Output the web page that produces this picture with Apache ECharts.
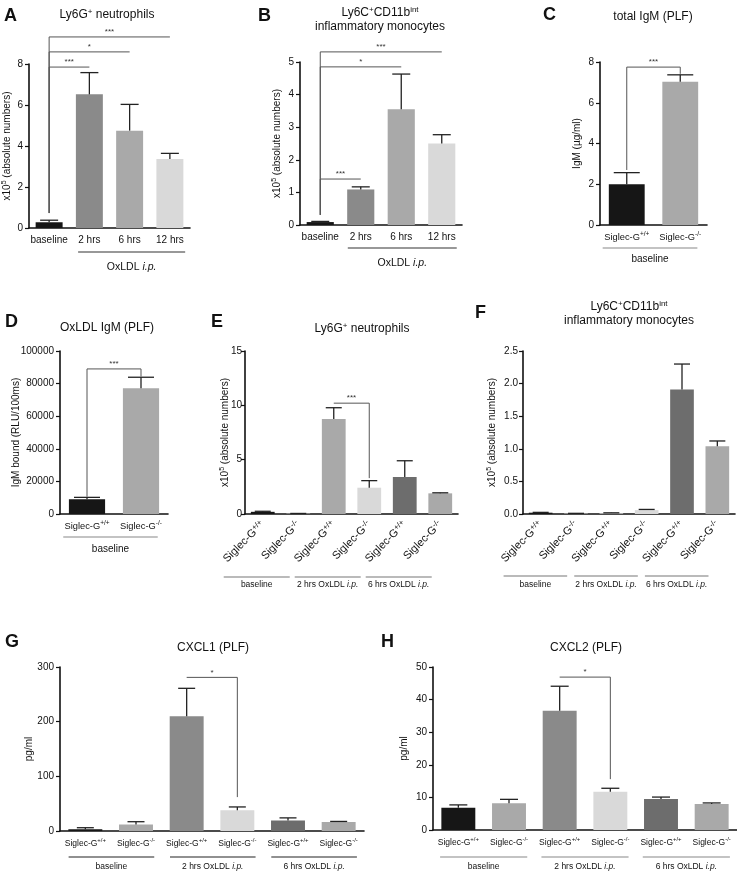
<!DOCTYPE html>
<html>
<head>
<meta charset="utf-8">
<script src="https://cdn.jsdelivr.net/npm/echarts@6/dist/echarts.min.js"></script>
<style>
html, body { margin: 0; padding: 0; background: #fff; }
#fig { width: 737px; height: 872px; }
</style>
</head>
<body>
<div id="fig"></div>
<script>
// values; "upper" = top of the error bar (mean + SEM)
var catsTime = ['baseline', '2 hrs', '6 hrs', '12 hrs'];
var catsGeno = ['Siglec-G+/+', 'Siglec-G-/-'];
var catsGeno6 = ['Siglec-G+/+', 'Siglec-G-/-', 'Siglec-G+/+', 'Siglec-G-/-', 'Siglec-G+/+', 'Siglec-G-/-'];

var aMean = [0.28, 6.52, 4.75, 3.37];
var aUpper = [0.38, 7.58, 6.03, 3.64];
var bMean = [0.09, 1.09, 3.55, 2.5];
var bUpper = [0.11, 1.17, 4.63, 2.77];
var cMean = [2.0, 7.03];
var cUpper = [2.57, 7.37];
var dMean = [9000, 77100];
var dUpper = [10200, 83900];
var eMean = [0.2, 0.05, 8.74, 2.42, 3.4, 1.9];
var eUpper = [0.25, 0.05, 9.78, 3.07, 4.9, 1.95];
var fMean = [0.02, 0.01, 0.015, 0.06, 1.91, 1.04];
var fUpper = [0.025, 0.01, 0.018, 0.07, 2.3, 1.12];
var gMean = [3, 12, 210, 38, 19, 16.5];
var gUpper = [6, 17, 261, 44, 24, 17.5];
var hMean = [6.8, 8.2, 36.6, 11.7, 9.5, 8.0];
var hUpper = [7.7, 9.4, 44.1, 12.8, 10.1, 8.3];

// significance brackets: [from, to, level, left end, right end, stars]
var aSig = [[0, 1, 7.85, 0.73, 7.85, '***'], [0, 2, 8.59, 0.73, 8.59, '*'], [0, 3, 9.32, 0.73, 9.32, '***']];
var bSig = [[0, 1, 1.41, 0.31, 1.41, '***'], [0, 2, 4.85, 0.31, 4.85, '*'], [0, 3, 5.31, 0.31, 5.31, '***']];
var cSig = [[0, 1, 7.75, 2.7, 7.42, '***']];
var dSig = [[0, 1, 89000, 10600, 84300, '***']];
var eSig = [[2, 3, 10.2, 10.2, 3.3, '***']];
var fSig = [];
var gSig = [[2, 3, 281, 281, 62, '*']];
var hSig = [[2, 3, 46.9, 46.9, 15.6, '*']];

// group labels under the x axis: [first, last, label]
var timeGroups = [[1, 3, 'OxLDL i.p.']];
var baseGroups = [[0, 1, 'baseline']];
var genoGroups = [[0, 1, 'baseline'], [2, 3, '2 hrs OxLDL i.p.'], [4, 5, '6 hrs OxLDL i.p.']];

var FONT = '"Liberation Sans", Arial, Helvetica, sans-serif';
var INK = '#111';
var K = '#161616', G1 = '#8a8a8a', G2 = '#a9a9a9', G3 = '#d9d9d9', G4 = '#6d6d6d';

var panels = [
  { letter: 'A', lx: 4, ly: 7, title: 'Ly6G{s|+} neutrophils', tx: 107, ty: 8,
    rect: [28, 64, 162, 164], cats: catsTime, mean: aMean, upper: aUpper, max: 8, step: 2,
    colors: [K, G1, G2, G3], yName: 'x10{s|5} (absolute numbers)', nameGap: 16, yMargin: 6,
    sig: aSig, groups: timeGroups, gFrom: -0.28, gTo: 0.38, lineDy: 24, textDy: 39, gColor: '#333', gFont: 10.5,
    xFont: 10, rotate: 0, cap: 9 },
  { letter: 'B', lx: 258, ly: 7, title: 'Ly6C{s|+}CD11b{s|int}\ninflammatory monocytes', tx: 380, ty: 6,
    rect: [300, 62, 162, 163], cats: catsTime, mean: bMean, upper: bUpper, max: 5, step: 1,
    colors: [K, G1, G2, G3], yName: 'x10{s|5} (absolute numbers)', nameGap: 17, yMargin: 6,
    sig: bSig, groups: timeGroups, gFrom: -0.32, gTo: 0.37, lineDy: 23, textDy: 38, gColor: '#333', gFont: 10.5,
    xFont: 10, rotate: 0, cap: 9 },
  { letter: 'C', lx: 543, ly: 6, title: 'total IgM (PLF)', tx: 653, ty: 10,
    rect: [600, 62, 107, 163], cats: catsGeno, mean: cMean, upper: cUpper, max: 8, step: 2,
    colors: [K, G2], yName: 'IgM (µg/ml)', nameGap: 17, yMargin: 6,
    sig: cSig, groups: baseGroups, gFrom: -0.45, gTo: 0.32, lineDy: 23, textDy: 34, gColor: '#888', gFont: 10,
    xFont: 9.3, rotate: 0, cap: 13 },
  { letter: 'D', lx: 5, ly: 313, title: 'OxLDL IgM (PLF)', tx: 107, ty: 321,
    rect: [60, 351, 108, 163], cats: catsGeno, mean: dMean, upper: dUpper, max: 100000, step: 20000,
    colors: [K, G2], yName: 'IgM bound (RLU/100ms)', nameGap: 38, yMargin: 6,
    sig: dSig, groups: baseGroups, gFrom: -0.44, gTo: 0.31, lineDy: 23, textDy: 35, gColor: '#888', gFont: 10,
    xFont: 9.3, rotate: 0, cap: 13 },
  { letter: 'E', lx: 211, ly: 313, title: 'Ly6G{s|+} neutrophils', tx: 362, ty: 322,
    rect: [245, 351, 213, 163], cats: catsGeno6, mean: eMean, upper: eUpper, max: 15, step: 5,
    colors: [K, G2, G2, G3, G4, G2], yName: 'x10{s|5} (absolute numbers)', nameGap: 14, yMargin: 3,
    sig: eSig, groups: genoGroups, gFrom: -1.1, gTo: -0.24, lineDy: 63, textDy: 71, gColor: '#777', gFont: 8.5,
    xFont: 11, rotate: 45, cap: 8 },
  { letter: 'F', lx: 475, ly: 304, title: 'Ly6C{s|+}CD11b{s|int}\ninflammatory monocytes', tx: 629, ty: 300,
    rect: [523, 351, 212, 163], cats: catsGeno6, mean: fMean, upper: fUpper, max: 2.5, step: 0.5,
    colors: [K, G2, G2, G3, G4, G2], yName: 'x10{s|5} (absolute numbers)', nameGap: 25, yMargin: 5,
    sig: fSig, groups: genoGroups, gFrom: -1.05, gTo: -0.25, lineDy: 62, textDy: 71, gColor: '#777', gFont: 8.5,
    xFont: 11, rotate: 45, cap: 8, fixed: 1 },
  { letter: 'G', lx: 5, ly: 633, title: 'CXCL1 (PLF)', tx: 213, ty: 641,
    rect: [60, 667, 304, 164], cats: catsGeno6, mean: gMean, upper: gUpper, max: 300, step: 100,
    colors: [K, G2, G1, G3, G4, G2], yName: 'pg/ml', nameGap: 25, yMargin: 6,
    sig: gSig, groups: genoGroups, gFrom: -0.33, gTo: 0.36, lineDy: 26, textDy: 36, gColor: '#222', gFont: 8.5,
    xFont: 8.5, rotate: 0, cap: 8.5 },
  { letter: 'H', lx: 381, ly: 633, title: 'CXCL2 (PLF)', tx: 586, ty: 641,
    rect: [433, 667, 304, 163], cats: catsGeno6, mean: hMean, upper: hUpper, max: 50, step: 10,
    colors: [K, G2, G1, G3, G4, G2], yName: 'pg/ml', nameGap: 23, yMargin: 6,
    sig: hSig, groups: genoGroups, gFrom: -0.36, gTo: 0.36, lineDy: 27, textDy: 37, gColor: '#888', gFont: 8.5,
    xFont: 8.5, rotate: 0, cap: 9 }
];

function supify(s) { return s.replace(/(\+\/\+|-\/-)$/, '{s|$1}'); }
function italIp(s) { return s.replace('i.p.', '{i|i.p.}'); }

var option = { animation: false, backgroundColor: '#fff', title: [], grid: [], xAxis: [], yAxis: [], series: [] };

panels.forEach(function (p, k) {
  option.title.push({
    text: p.letter, left: p.lx, top: p.ly, padding: 0,
    textStyle: { fontFamily: FONT, fontSize: 18, fontWeight: 'bold', color: INK }
  });
  option.title.push({
    text: p.title, left: p.tx, top: p.ty, padding: 0, textAlign: 'center',
    textStyle: {
      fontFamily: FONT, fontSize: 12, fontWeight: 'normal', color: INK, lineHeight: 14,
      rich: { s: { fontFamily: FONT, fontSize: 8, color: INK, verticalAlign: 'top', lineHeight: 8 } }
    }
  });

  option.grid.push({ left: p.rect[0], top: p.rect[1], width: p.rect[2], height: p.rect[3] });

  option.xAxis.push({
    type: 'category', gridIndex: k, data: p.cats,
    axisLine: { lineStyle: { color: INK, width: 1.6 } },
    axisTick: { alignWithLabel: true, length: 4, lineStyle: { color: INK, width: 1.2 } },
    axisLabel: {
      interval: 0, rotate: p.rotate, margin: p.rotate ? 9 : 6, color: INK, fontFamily: FONT, fontSize: p.xFont,
      lineHeight: 13, formatter: supify, hideOverlap: false,
      rich: { s: { fontFamily: FONT, fontSize: p.xFont * 0.7, color: INK, verticalAlign: 'top', lineHeight: 7 } }
    },
    splitLine: { show: false }
  });

  option.yAxis.push({
    type: 'value', gridIndex: k, min: 0, max: p.max, interval: p.step,
    axisLine: { show: true, lineStyle: { color: INK, width: 1.6 } },
    axisTick: { show: true, length: 4, lineStyle: { color: INK, width: 1.2 } },
    axisLabel: {
      margin: p.yMargin, color: INK, fontFamily: FONT, fontSize: 10,
      formatter: function (v) { return p.fixed ? v.toFixed(p.fixed) : String(v); }
    },
    splitLine: { show: false },
    name: p.yName, nameLocation: 'middle', nameGap: p.nameGap, nameRotate: 90, nameMoveOverlap: false,
    nameTextStyle: {
      color: INK, fontFamily: FONT, fontSize: 10, lineHeight: 12,
      rich: { s: { fontFamily: FONT, fontSize: 7, color: INK, verticalAlign: 'top', lineHeight: 7 } }
    }
  });

  // bars
  option.series.push({
    type: 'bar', xAxisIndex: k, yAxisIndex: k, barWidth: '67%', silent: true,
    data: p.mean.map(function (v, i) { return { value: v, itemStyle: { color: p.colors[i] } }; })
  });

  // error bars (upper only, with cap)
  option.series.push({
    type: 'custom', xAxisIndex: k, yAxisIndex: k, clip: false, silent: true, z: 3,
    data: p.mean.map(function (v, i) { return [i, v, p.upper[i]]; }),
    renderItem: function (params, api) {
      var i = api.value(0);
      var a = api.coord([i, api.value(1)]);
      var b = api.coord([i, api.value(2)]);
      var st = { stroke: '#222', lineWidth: 1.3 };
      return { type: 'group', children: [
        { type: 'line', shape: { x1: a[0], y1: a[1], x2: b[0], y2: b[1] }, style: st },
        { type: 'line', shape: { x1: b[0] - p.cap, y1: b[1], x2: b[0] + p.cap, y2: b[1] }, style: st }
      ] };
    }
  });

  // significance brackets
  if (p.sig.length) {
    option.series.push({
      type: 'custom', xAxisIndex: k, yAxisIndex: k, clip: false, silent: true, z: 4,
      data: p.sig.map(function (s) { return [s[0], s[2]]; }),
      renderItem: function (params, api) {
        var s = p.sig[params.dataIndex];
        var l = api.coord([s[0], s[2]]), r = api.coord([s[1], s[2]]);
        var lb = api.coord([s[0], s[3]]), rb = api.coord([s[1], s[4]]);
        return { type: 'group', children: [
          { type: 'polyline', shape: { points: [lb, l, r, rb] }, style: { stroke: '#555', lineWidth: 1, fill: null } },
          { type: 'text', x: (l[0] + r[0]) / 2, y: l[1] - 1,
            style: { text: s[5], fontFamily: FONT, fontSize: 8, fill: '#333', align: 'center', verticalAlign: 'bottom', textAlign: 'center', textVerticalAlign: 'bottom' } }
        ] };
      }
    });
  }

  // group lines and labels under the axis
  option.series.push({
    type: 'custom', xAxisIndex: k, yAxisIndex: k, clip: false, silent: true, z: 4,
    data: p.groups.map(function (g) { return [g[0], 0]; }),
    renderItem: function (params, api) {
      var g = p.groups[params.dataIndex];
      var bw = api.size([1, 0])[0];
      var a = api.coord([g[0], 0]), z = api.coord([g[1], 0]);
      var x1 = a[0] + p.gFrom * bw, x2 = z[0] + p.gTo * bw, y0 = a[1];
      return { type: 'group', children: [
        { type: 'line', shape: { x1: x1, y1: y0 + p.lineDy, x2: x2, y2: y0 + p.lineDy }, style: { stroke: p.gColor, lineWidth: 1.1 } },
        { type: 'text', x: (x1 + x2) / 2, y: y0 + p.textDy,
          style: { text: italIp(g[2]), fontFamily: FONT, fontSize: p.gFont, fill: INK,
            align: 'center', verticalAlign: 'middle', textAlign: 'center', textVerticalAlign: 'middle',
            rich: { i: { fontFamily: FONT, fontSize: p.gFont, fontStyle: 'italic', fill: INK } } } }
      ] };
    }
  });
});

var chart = echarts.init(document.getElementById('fig'), null, { renderer: 'canvas' });
chart.setOption(option);
</script>
</body>
</html>
